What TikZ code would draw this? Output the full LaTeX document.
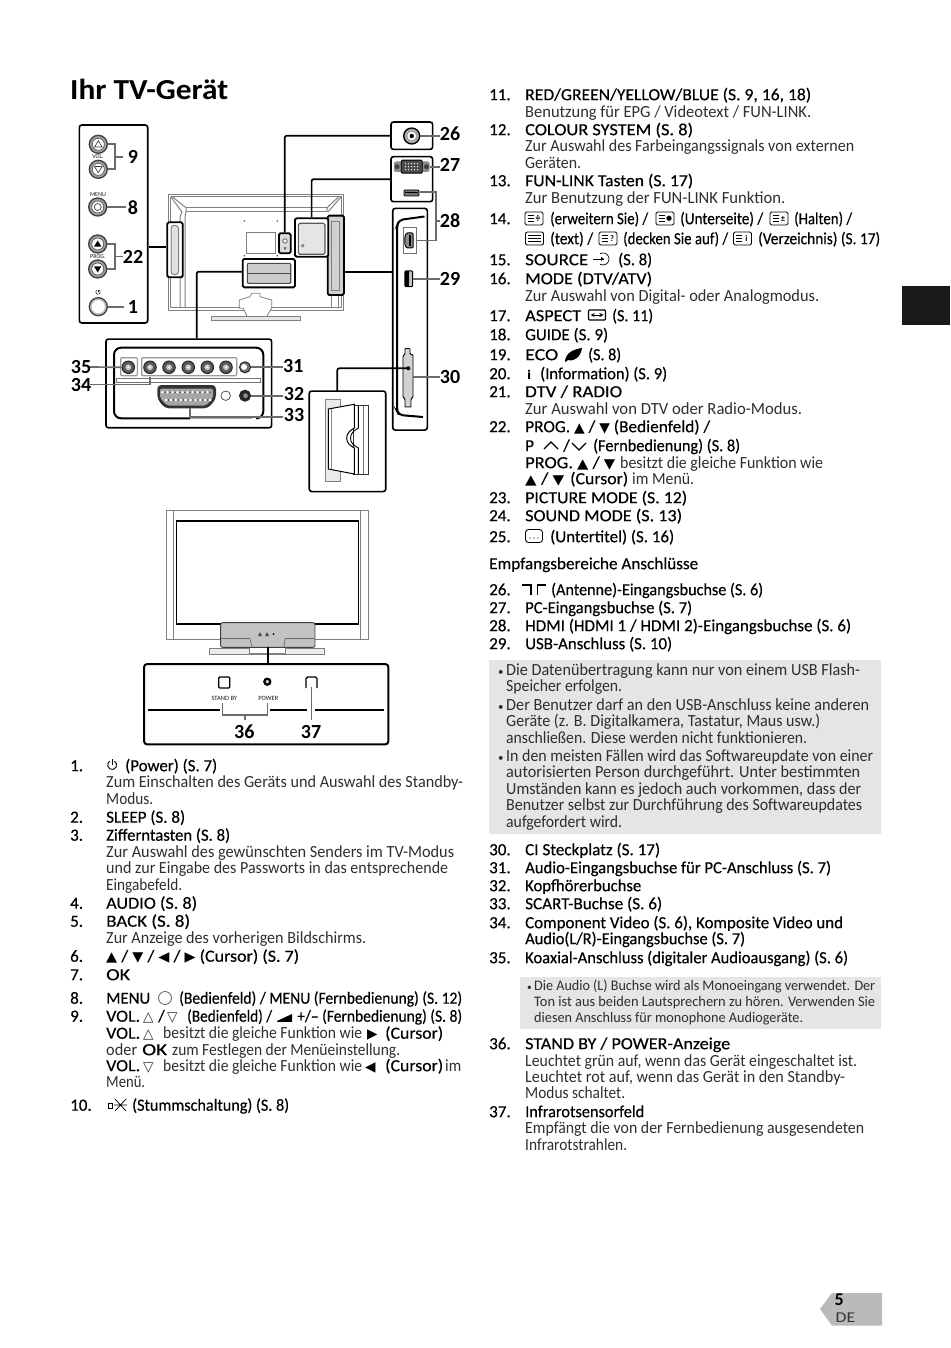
\documentclass[tikz,border=0pt]{standalone}
\usepackage{fontspec}
\usepackage{graphicx}
\setmainfont{Carlito}
\newfontfamily\hdf[FakeBold=0.35]{Carlito}
\newfontfamily\symf[Scale=0.8]{DejaVu Sans}
\newcommand\sy[1]{{\symf #1}}
\newcommand\fsn{\fontsize{17}{20}\selectfont}
\newcommand\fss{\fontsize{14.6}{17}\selectfont}
\newcounter{tln}
\newsavebox\tlbox
\newcommand\fitw[2]{\sbox\tlbox{#2}\if\relax\detokenize{#1}\relax\usebox\tlbox\else\pgfmathsetmacro\tlsc{#1/\the\wd\tlbox}\scalebox{\tlsc}[1]{\usebox\tlbox}\fi}
% \tl[width]{x}{baseline}{text}
\newcommand\tl[4][]{\stepcounter{tln}\node[txt,font=\fsn\hdf] (t\thetln) at (#2,#3+.7) {\fitw{#1}{#4}};}
\newcommand\dl[4][]{\stepcounter{tln}\node[txt,text=black!82] (t\thetln) at (#2,#3+.7) {\fitw{#1}{#4}};}
\newcommand\snl[4][]{\stepcounter{tln}\node[txt,font=\fss,text=black!82] (t\thetln) at (#2,#3) {\fitw{#1}{#4}};}
\newcommand\tvicon[3]{% x y glyph
  \draw[icn,rounded corners=1.5pt] (#1,#2-6.5) rectangle ++(18,13);
  \foreach \k in {-3,0,3}{\draw[line width=.7pt] (#1+2.5,#2+\k) -- ++(6,0);}
  \node[inner sep=0,font=\fontsize{8.5}{9}\bfseries\selectfont] at (#1+13,#2) {#3};}
\tikzset{
  txt/.style={anchor=base west,inner sep=0pt,font=\fsn,text=black},
  lbl/.style={inner sep=0pt,font=\fontsize{20}{20}\selectfont\bfseries,text=black},
  tinytxt/.style={inner sep=0pt,font=\fontsize{6}{6}\selectfont,text=black!90},
  pan/.style={draw=black,line width=1.6pt,rounded corners=2.5pt,inner sep=0pt,fill=white},
  hi/.style={draw=black,line width=1.8pt,rounded corners=1.5pt,inner sep=0pt},
  conn/.style={draw=black,line width=1.7pt,rounded corners=2pt},
  lead/.style={draw=black!58,line width=1.7pt},
  thn/.style={draw=black!50,line width=1pt},
  icn/.style={draw=black,line width=.9pt},
  btn/.style={circle,draw=black!75,line width=1.3pt,fill=black!38,inner sep=0pt,minimum size=18pt},
  jack/.style={circle,draw=black!85,line width=1pt,fill=black!65,inner sep=0pt,minimum size=12.5pt},
}
\begin{document}
\begin{tikzpicture}[x=1pt,y=-1pt]
\useasboundingbox (0,0) rectangle (950,1348);
% page furniture
\fill[black!90] (902,286) rectangle (950,325);
\fill[black!27] (832,1293) -- (882,1293) -- (882,1325.5) -- (832,1325.5) -- (820,1309) -- cycle;
\node[txt,font=\fontsize{18}{18}\selectfont] (pgnum) at (834.5,1305.5) {\textbf{5}};
\node[txt,font=\fontsize{15}{15}\selectfont,text=black!80] (pglang) at (835.5,1322) {\fitw{19.5}{DE}};
\node[txt,font=\fontsize{29}{30}\selectfont\bfseries] (title) at (70,100) {\fitw{158}{Ihr TV-Gerät}};

%%%%% rear TV
\draw[thn] (168.3,194.3) rectangle (343.5,310);
\draw[thn] (170.5,197) -- (341.5,197);
\draw[thn] (170.5,197) -- (170.5,308) (341.5,197) -- (341.5,308);
\draw[thn] (186,207.7) -- (327,207.7) (186,211.7) -- (327,211.7);
\draw[thn] (171,197) -- (182,212) -- (180,217) -- (180,308);
\draw[thn] (172,196.5) -- (186,207.7) -- (186,212) -- (185,216.7) -- (185,308);
\draw[thn] (341,197) -- (328,212);
\draw[thn] (339,196.5) -- (327,207.7) -- (327,212);
\draw[thn] (170.5,307) -- (341.5,307);
\draw[thn] (331,296) -- (331,308) (338,296) -- (338,308);
\draw[thn,line width=.8pt,fill=white] (239.3,308.3) -- (239.3,300) -- (250,296.7) -- (251.7,293.3) -- (260,293.3) -- (260,296.7) -- (271.7,300) -- (271.7,307.7) -- (266.7,316.7) -- (247.3,316.7) -- (243.3,308.3) -- cycle;
\draw[thn,line width=.8pt,fill=black!10] (211.7,316) rectangle (300,320.5);
\draw[thn,line width=.7pt] (246.7,232.7) rectangle (275,253.3);
\foreach \p in {(244.3,221),(277.3,221),(244.3,255.7),(277.3,255.7)} \fill[black!65] \p circle (.9);

\node[hi,fill=white,minimum width=15.4pt,minimum height=55pt] (sl) at (175,249.8) {};
\draw[thn,rounded corners=3pt,fill=black!12] (171,225.5) rectangle (178.5,274.5);
\node[hi,fill=black!18,minimum width=16.3pt,minimum height=79.3pt] (sr) at (335.8,255.3) {};
\draw[thn,line width=.7pt] (331,221) -- (339,221) -- (339,290) -- (331,290);
\draw[thn,line width=.7pt] (331,221) -- (331,290);
\node[hi,fill=white,minimum width=33.3pt,minimum height=38.4pt] (sm) at (311.6,237.5) {};
\draw[black!65,line width=1.1pt,rounded corners=1.5pt,fill=black!10] (298.3,223.3) rectangle (325,254.3);
\draw[black!60,line width=.6pt] (302.7,245.7) circle (1.4);
\node[hi,fill=black!14,minimum width=11.7pt,minimum height=20pt] (sc) at (284.8,243.3) {};
\draw[black!70,line width=.7pt,fill=white] (285,241) circle (2.2);
\fill[black!70] (283.6,247.5) -- (286.4,247.5) -- (285,250) -- cycle;
\node[hi,fill=white,minimum width=52.3pt,minimum height=28.3pt] (sb) at (268.8,273.2) {};
\draw[black!70,line width=1.1pt,rounded corners=1pt,fill=black!20] (247.3,263.3) rectangle (290.7,283.3);
\draw[black!70,line width=1pt] (247.3,273.3) -- (290.7,273.3);

%%%%% left control panel
\node[pan,minimum width=68.4pt,minimum height=198pt] (lp) at (113.5,224) {};
\node[btn] (bvu) at (98.3,144.3) {};
\node[btn] (bvd) at (98.3,169.3) {};
\node[btn] (bm) at (97.7,207) {};
\node[btn] (bpu) at (97.7,244) {};
\node[btn] (bpd) at (97.7,269) {};
\node[btn,fill=black!25] (bpw) at (98.3,306.7) {};
\foreach \n in {bvu,bvd,bm,bpu,bpd}{\fill[white] (\n) circle (5.8);\draw[black!70,line width=.5pt] (\n) circle (6);}
\fill[white] (bpw) circle (6.5);
\draw[black!75,line width=.7pt] (98.3,140.8) -- (102,147) -- (94.6,147) -- cycle;
\draw[black!75,line width=.7pt] (98.3,172.8) -- (102,166.6) -- (94.6,166.6) -- cycle;
\draw[black!75,line width=.7pt] (bm) circle (3.5);
\fill[black] (97.7,240.5) -- (101.4,246.7) -- (94,246.7) -- cycle;
\fill[black] (97.7,272.5) -- (101.4,266.3) -- (94,266.3) -- cycle;
\node[tinytxt] (tvol) at (98,157) {VOL.};
\node[tinytxt] (tmenu) at (98,194.7) {MENU};
\node[tinytxt] (tprog) at (98,257) {PROG.};
\draw[black!80,line width=.6pt] (99.1,290.1) arc[start angle=-60,end angle=240,radius=2.2];
\draw[black!80,line width=.6pt] (98,289.5) -- (98,292);
\coordinate (j9) at (115,156.7);
\draw[lead] (bvu.east) -| (j9) -- ++(8,0);
\draw[lead] (bvd.east) -| (j9);
\draw[lead] (bm.east) -- ++(19,0);
\coordinate (j22) at (115,256.5);
\draw[lead] (bpu.east) -| (j22) -- ++(8,0);
\draw[lead] (bpd.east) -| (j22);
\draw[lead] (bpw.east) -- ++(16,0);
\node[lbl] (l9) at (133,157) {9};
\node[lbl] (l8) at (133,207.5) {8};
\node[lbl] (l22) at (133,256.5) {22};
\node[lbl] (l1) at (133,306.7) {1};
\coordinate (cl) at (170,247.3);
\draw[conn] (lp.east |- cl) -- (sl.west |- cl);

%%%%% top-right panels
\node[pan,minimum width=41.7pt,minimum height=27.3pt] (p26) at (411.8,135.7) {};
\node[pan,minimum width=41.7pt,minimum height=45pt] (p27) at (411.8,179.2) {};
\node[circle,draw=black,line width=1.3pt,fill=black!35,minimum size=16pt,inner sep=0] (ant) at (411.7,136) {};
\fill[white] (ant) circle (4.3);
\fill[black] (ant) circle (2.2);
\draw[conn] (p26.west) -| (sc.north);
\draw[conn] (p27.west) -| (sm.north);
\draw[lead] (ant.east) -- (440,136);
\node[lbl] (l26) at (450,133.3) {26};
% VGA
\fill[black!45,rounded corners=2pt] (394,161.5) rectangle (429.5,172);
\node[draw=black,fill=black!70,line width=.9pt,rounded corners=1pt,minimum width=21pt,minimum height=13pt,inner sep=0] (vga) at (411.7,166.7) {};
\foreach \i in {0,...,4}{\foreach \jj in {-3,0,3}{\fill[white] (405.5+\i*3,166.7+\jj) circle (.7);}}
\foreach \cc in {397,426.5}{\fill[black!75] (\cc,166.7) circle (2.5);}
\draw[lead] (430,166.7) -- (440,166.7);
\node[lbl] (l27) at (450,165) {27};
\node[draw=black,fill=black!55,line width=.9pt,rounded corners=1pt,minimum width=15pt,minimum height=6pt,inner sep=0] (hd1) at (411.5,193) {};
\fill[black] (405,191.8) rectangle (418,193.2);
% side panel
\node[pan,minimum width=34.6pt,minimum height=221.7pt] (sp) at (410,319.2) {};
\draw[black,line width=2pt,rounded corners=4pt] (424.5,216.5) -- (399,220) -- (397,226) -- (397,411) -- (399,415) -- (423,417);
\node[draw=black!55,line width=.9pt,inner sep=0,minimum width=13.4pt,minimum height=25.6pt,fill=white] (ph) at (410,240.5) {};
\draw[black,fill=black!45,line width=1pt,rounded corners=1pt] (406.5,233) -- (413,233) -- (413,248) -- (406.5,248) -- (404.8,244.5) -- (404.8,236.5) -- cycle;
\fill[black] (408.5,235.5) rectangle (410.5,246);
\node[draw=black,fill=black!25,line width=1pt,rounded corners=1pt,inner sep=0,minimum width=7.7pt,minimum height=15.7pt] (pu) at (408.8,278.8) {};
\fill[black] (405,271) rectangle (408.5,286.5);
\draw[black,fill=black!18,line width=.9pt,rounded corners=.8pt] (405,354) -- (405,348.5) -- (410,348.5) -- (410,354) -- (413,355) -- (413,397) -- (411,399) -- (411,407) -- (405,407) -- (405,399) -- (403,397) -- (403,356) -- cycle;
\coordinate (ci) at (408.3,368.3);
\fill[black] (ci) circle (2);
\coordinate (jl) at (392.7,272.3);
\draw[conn] (sr.east |- jl) -- (jl);
\draw[lead] (ph.east) -- (436,240.5) -- (436,191.7) -- (420,191.7);
\draw[lead] (436,221) -- (440,221);
\node[lbl] (l28) at (450,221) {28};
\draw[lead] (412.7,279) -- (440,279);
\node[lbl] (l29) at (450,279) {29};
\draw[lead] (413,376.7) -- (440,376.7);
\node[lbl] (l30) at (450,376.7) {30};

%%%%% bottom connector panel
\node[pan,minimum width=165.7pt,minimum height=88.7pt] (bp) at (188.8,383.4) {};
\coordinate (jb) at (196.7,271.7);
\draw[conn] (sb.west |- jb) -- (jb) -- (jb |- bp.north);
\draw[black,line width=2pt,rounded corners=7pt] (190,418.3) -- (114,418.3) -- (114,347.7) -- (263.3,347.7) -- (263.3,418.3) -- (258,418.3);
\draw[black!35,line width=.8pt] (190,418.3) -- (252,418.3);
\draw[black!55,line width=.8pt] (116.7,378.3) rectangle (260,382.3);
\node[draw=black!40,line width=1.1pt,rounded corners=1pt,inner sep=0,minimum width=16.6pt,minimum height=18pt] (g35) at (129,366.7) {};
\node[draw=black!40,line width=1.1pt,rounded corners=1pt,inner sep=0,minimum width=95pt,minimum height=18pt] (g34) at (189.2,366.7) {};
\foreach \x/\n in {128.3/f,150/a,169/b,188.3/c,207.3/d,226/e}{\node[jack] (j34\n) at (\x,367.3) {};\fill[black!25] (j34\n) circle (3);\fill[white] (j34\n) circle (1.2);}
\node[jack,fill=black!55,minimum size=11pt] (j31) at (245,367.3) {};
\fill[white] (244,367) circle (3);
\node[jack,fill=black!85,minimum size=11pt] (j32) at (245,395.7) {};
\fill[black!45] (245.5,395.7) circle (2.4);
\node[circle,draw=black!75,line width=.7pt,inner sep=0,minimum size=9.5pt] (jw) at (225.7,395.7) {};
\fill[black!80,rounded corners=4pt] (157.3,385) -- (216,385) -- (216,399) -- (208,408.3) -- (165,408.3) -- (157.3,399) -- cycle;
\fill[black!35,rounded corners=2pt] (160,388.5) -- (213,388.5) -- (213,398) -- (206,405.5) -- (167,405.5) -- (160,398) -- cycle;
\foreach \i in {0,...,9}{\fill[white] (162.5+\i*5,392.3) circle (1.4);\fill[black] (165+\i*5,392.3) circle (.6);\fill[white] (166+\i*4.9,400) circle (1.4);\fill[black] (168.5+\i*4.9,400) circle (.6);}
\draw[lead] (88,367) -- (j34f.west);
\node[lbl] (l35) at (81,366.7) {35};
\draw[lead] (90,384.5) -- (150,384.5) -- (150,376.5);
\node[lbl] (l34) at (81,385) {34};
\draw[lead] (j31.east) -- (283,367.3);
\node[lbl] (l31) at (293.3,365.7) {31};
\draw[lead] (j32.east) -- (283,395.7);
\node[lbl] (l32) at (294,394.3) {32};
\draw[lead] (190,408.3) -- (190,417.3) -- (283,417.3);
\node[lbl] (l33) at (294,415.3) {33};

%%%%% CI inset
\node[pan,minimum width=76.5pt,minimum height=100.5pt] (ci2) at (347.5,441.3) {};
\coordinate (cib) at (337.3,391);
\draw[conn] (ci) -| (cib);
\draw[black!50,line width=.9pt,fill=black!8] (325.7,399) rectangle (340,481.7);
\draw[black!80,line width=.9pt,fill=white] (353,405.7) -- (368,405.7) -- (368,474) -- (353,474) -- cycle;
\draw[black!55,line width=.7pt] (363.3,406) -- (363.3,474);
\draw[black,line width=1pt,fill=white] (328.3,409) -- (354.3,404.3) -- (354.3,428) to[out=-150,in=90] (346.7,438.3) to[out=-90,in=150] (354.3,448) -- (354.3,474) -- (328.3,469) -- cycle;
\draw[black,line width=.9pt] (358.3,405.5) -- (358.3,428) to[out=-150,in=90] (350.5,438.3) to[out=-90,in=150] (358.3,448) -- (358.3,474);
\draw[black!45,line width=.7pt] (331,408.5) -- (331,469);

%%%%% front TV
\draw[thn] (166,510) rectangle (368.3,639.3);
\draw[thn] (173.3,510) -- (173.3,639.3) (360.7,510) -- (360.7,639.3);
\node[draw=black,line width=1.2pt,inner sep=0,fill=white,minimum width=181.6pt,minimum height=103pt] (scr) at (267.5,572.5) {};
\draw[thn,fill=black!8] (209,648) rectangle (324,654);
\draw[thn,fill=white] (249,640) -- (285,640) -- (285,653) -- (249,653) -- cycle;
\node[draw=black!75,line width=.9pt,rounded corners=2pt,fill=black!24,inner sep=0,minimum width=94.3pt,minimum height=24.7pt] (fs) at (267.8,635) {};
\fill[black!70] (258,636) -- (260,632) -- (262,636) -- cycle (265,636) -- (267,632) -- (269,636) -- cycle;
\fill[black] (273.5,634) circle (1);
\draw[black!60,line width=.7pt] (220.7,638) -- (250,638) (285,638) -- (315,638);
\draw[black!60,line width=.7pt] (250,639) -- (252,647) (285,639) -- (284,647);
\node[pan,line width=2pt,rounded corners=3pt,minimum width=244.3pt,minimum height=80.3pt] (fp) at (266.2,704.2) {};
\coordinate (fc) at (267.7,647);
\draw[conn,line width=2.2pt] (fc) -- (fc |- fp.north);
\draw[black,line width=1.3pt] (147.5,710) -- (220,710) (270,710) -- (307,710) (315,710) -- (384,710);
\node[draw=black,line width=1.3pt,rounded corners=1pt,inner sep=0,minimum size=11pt,fill=white] (fsb) at (224.3,682.5) {};
\node[circle,draw=black,line width=2.2pt,inner sep=0,minimum size=6pt,fill=black!20] (fpw) at (267.3,681.7) {};
\coordinate (fir) at (311.7,687);
\draw[black,line width=1.4pt,rounded corners=1.5pt] (306,688) -- (306,677) -- (317,677) -- (317,688);
\node[tinytxt,font=\fontsize{6.5}{7}\selectfont] (tsb) at (224.3,698.3) {STAND BY};
\node[tinytxt,font=\fontsize{6.5}{7}\selectfont] (tpw) at (268.3,698.3) {POWER};
\coordinate (b1) at (222.7,703);
\coordinate (b2) at (267.7,703);
\coordinate (b3) at (245,715);
\draw[lead,line width=1.4pt] (b1) -- (b1 |- b3) -- (b2 |- b3) -- (b2) (b3) -- ++(0,5);
\draw[lead,line width=1.4pt] (fir) -- (311.7,720);
\node[lbl] (l36) at (244.3,731.7) {36};
\node[lbl] (l37) at (311,731.7) {37};

%%%%% left column
\tl{70}{770.5}{1.}
\draw[icn] (114.4,761.1) arc[start angle=-60,end angle=240,radius=4.5];
\draw[icn] (112.2,759) -- (112.2,765);
\tl[92]{125}{770.5}{(Power) (S. 7)}
\dl[357]{106}{787}{Zum Einschalten des Geräts und Auswahl des Standby-}
\dl[47]{106}{803.5}{Modus.}
\tl{70}{822}{2.}\tl[79]{106}{822}{SLEEP (S. 8)}
\tl{70}{840}{3.}\tl[124]{106}{840}{Zifferntasten (S. 8)}
\dl[348]{106}{856.5}{Zur Auswahl des gewünschten Senders im TV-Modus}
\dl[342]{106}{873}{und zur Eingabe des Passworts in das entsprechende}
\dl[76]{106}{889.5}{Eingabefeld.}
\tl{70}{908}{4.}\tl[91]{106}{908}{AUDIO (S. 8)}
\tl{70}{926}{5.}\tl[84]{106}{926}{BACK (S. 8)}
\dl[260]{106}{943}{Zur Anzeige des vorherigen Bildschirms.}
\tl{70}{961}{6.}\tl[193]{106}{961}{\sy{▲} / \sy{▼} / \sy{◀} / \sy{▶} (Cursor) (S. 7)}
\tl{70}{979.5}{7.}\tl[24]{106}{979.5}{OK}
\tl{70}{1003}{8.}\tl[44]{106}{1003}{MENU}
\node[circle,draw=black!70,line width=.7pt,minimum size=13pt,inner sep=0] (menuic) at (165,998) {};
\tl[283]{179}{1003}{(Bedienfeld) / MENU (Fernbedienung) (S. 12)}
\tl{70}{1021}{9.}\tl[34]{106}{1021}{VOL.}
\dl{143}{1021}{\sy{△}}\tl{158}{1021}{/}\dl{167}{1021}{\sy{▽}}
\tl[85]{187}{1021}{(Bedienfeld) /}
\fill[black] (277,1021) -- (292,1014) -- (292,1021) -- cycle;
\draw[black,line width=.5pt] (277,1021) -- (292,1021);
\tl[165]{297}{1021}{+/– (Fernbedienung) (S. 8)}
\tl[34]{106}{1038}{VOL.}\dl{143}{1038}{\sy{△}}
\dl[199]{163}{1038}{besitzt die gleiche Funktion wie}\tl{367}{1038}{\sy{▶}}\tl[58]{385}{1038}{(Cursor)}
\dl[31]{106}{1054.5}{oder}\tl[25]{142}{1054.5}{OK}\dl[228]{172}{1054.5}{zum Festlegen der Menüeinstellung.}
\tl[34]{106}{1070.5}{VOL.}\dl{143}{1070.5}{\sy{▽}}
\dl[199]{163}{1070.5}{besitzt die gleiche Funktion wie}\tl{365}{1070.5}{\sy{◀}}\tl[58]{385}{1070.5}{(Cursor)}\dl[16]{445}{1070.5}{im}
\dl[39]{106}{1087}{Menü.}
\tl{70}{1110}{10.}
\draw[icn] (108,1103) rectangle (112,1108);
\draw[icn,line width=.7pt] (115,1099) -- (126,1111) (126,1099) -- (115,1111) (114,1105) -- (127,1105);
\tl[157]{132}{1110}{(Stummschaltung) (S. 8)}

%%%%% right column
\tl{489}{99.5}{11.}\tl[286]{525}{99.5}{RED/GREEN/YELLOW/BLUE (S. 9, 16, 18)}
\dl[286]{525}{116.5}{Benutzung für EPG / Videotext / FUN-LINK.}
\tl{489}{134.5}{12.}\tl[168]{525}{134.5}{COLOUR SYSTEM (S. 8)}
\dl[329]{525}{151}{Zur Auswahl des Farbeingangssignals von externen}
\dl[56]{525}{167.5}{Geräten.}
\tl{489}{185.5}{13.}\tl[168]{525}{185.5}{FUN-LINK Tasten (S. 17)}
\dl[260]{525}{202.5}{Zur Benutzung der FUN-LINK Funktion.}
\tl{489}{223.5}{14.}
\tvicon{525}{218.5}{\symf ≑}\tl[98]{550}{223.5}{(erweitern Sie) /}
\tvicon{656}{218.5}{\symf ●}\tl[83]{680}{223.5}{(Unterseite) /}
\tvicon{770}{218.5}{±}\tl[58]{794}{223.5}{(Halten) /}
\draw[icn,rounded corners=2pt] (525.5,232) rectangle ++(18,13);
\draw[line width=.7pt] (528,235.5) -- ++(13,0) (528,238.5) -- ++(13,0) (528,241.5) -- ++(13,0);
\tl[43]{550}{243.5}{(text) /}
\tvicon{599}{238.5}{?}\tl[105]{623}{243.5}{(decken Sie auf) /}
\tvicon{733.5}{238.5}{i}\tl[122]{758}{243.5}{(Verzeichnis) (S. 17)}
\tl{489}{264.5}{15.}\tl[63]{525}{264.5}{SOURCE}
\draw[icn,line width=.7pt] (593,259) -- (604,259);
\draw[icn,line width=.7pt] (600,253.8) arc[start angle=-120,end angle=120,radius=6];
\fill[black] (604,259) -- (601,257) -- (601,261) -- cycle;
\tl[34]{618}{264.5}{(S. 8)}
\tl{489}{283.5}{16.}\tl[127]{525}{283.5}{MODE (DTV/ATV)}
\dl[294]{525}{300.5}{Zur Auswahl von Digital- oder Analogmodus.}
\tl{489}{320.5}{17.}\tl[56]{525}{320.5}{ASPECT}
\draw[icn,line width=1.1pt,rounded corners=1pt] (588.5,310) rectangle (605.5,320);
\draw[line width=.9pt,<->,>=stealth] (590.5,315) -- (603.5,315);
\tl[41]{612}{320.5}{(S. 11)}
\tl{489}{339.5}{18.}\tl[83]{525}{339.5}{GUIDE (S. 9)}
\tl{489}{359.5}{19.}\tl[33]{525}{359.5}{ECO}
\fill[black] (565,361) .. controls (566,352) and (575,349) .. (582,348) .. controls (581,356) and (575,362) .. (568,360) -- (565.5,362) -- cycle;
\tl[33]{588}{359.5}{(S. 8)}
\tl{489}{378.5}{20.}
\node[txt,font=\fontsize{15}{15}\selectfont\bfseries\symf] (iinfo) at (527,379.2) {i};
\tl[127]{540}{378.5}{(Information) (S. 9)}
\tl{489}{396.5}{21.}\tl[97]{525}{396.5}{DTV / RADIO}
\dl[277]{525}{413.5}{Zur Auswahl von DTV oder Radio-Modus.}
\tl{489}{431.5}{22.}\tl[185]{525}{431.5}{PROG. \sy{▲} / \sy{▼} (Bedienfeld) /}
\tl{525}{450.5}{P}
\draw[black,line width=1.2pt] (544,449) -- (551,442) -- (558,449) (572,443) -- (579,450) -- (586,443);
\tl{563}{450.5}{/}
\tl[147]{593}{450.5}{(Fernbedienung) (S. 8)}
\tl[90]{525}{467.5}{PROG. \sy{▲} / \sy{▼}}\dl[203]{620}{467.5}{besitzt die gleiche Funktion wie}
\tl[39]{525}{483.5}{\sy{▲} / \sy{▼}}\tl[58]{570}{483.5}{(Cursor)}\dl[62]{632}{483.5}{im Menü.}
\tl{489}{502.5}{23.}\tl[162]{525}{502.5}{PICTURE MODE (S. 12)}
\tl{489}{520.5}{24.}\tl[157]{525}{520.5}{SOUND MODE (S. 13)}
\tl{489}{541.5}{25.}
\draw[icn,rounded corners=3pt] (525.5,529.5) rectangle ++(17,13);
\fill[black] (530,538) circle (.7) (534,538) circle (.7) (538,538) circle (.7);
\tl[124]{550}{541.5}{(Untertitel) (S. 16)}
\tl[209]{489}{568.5}{Empfangsbereiche Anschlüsse}
\tl{489}{594.5}{26.}
\draw[icn,line width=1.5pt] (522,585) -- (531,585) -- (531,594.5) (537.5,594.5) -- (537.5,585) -- (546,585);
\tl[212]{551}{594.5}{(Antenne)-Eingangsbuchse (S. 6)}
\tl{489}{612.5}{27.}\tl[167]{525}{612.5}{PC-Eingangsbuchse (S. 7)}
\tl{489}{630.5}{28.}\tl[326]{525}{630.5}{HDMI (HDMI 1 / HDMI 2)-Eingangsbuchse (S. 6)}
\tl{489}{648.5}{29.}\tl[147]{525}{648.5}{USB-Anschluss (S. 10)}
\fill[black!10] (489,660) rectangle (881,834);
\dl{498}{674.5}{\scalebox{.65}{•}}\dl[354]{506}{674.5}{Die Datenübertragung kann nur von einem USB Flash-}
\dl[116]{506}{691}{Speicher erfolgen.}
\dl{498}{709.5}{\scalebox{.65}{•}}\dl[363]{506}{709.5}{Der Benutzer darf an den USB-Anschluss keine anderen}
\dl[314]{506}{726}{Geräte (z. B. Digitalkamera, Tastatur, Maus usw.)}
\dl[301]{506}{742.5}{anschließen. Diese werden nicht funktionieren.}
\dl{498}{760.5}{\scalebox{.65}{•}}\dl[367]{506}{760.5}{In den meisten Fällen wird das Softwareupdate von einer}
\dl[354]{506}{777}{autorisierten Person durchgeführt. Unter bestimmten}
\dl[355]{506}{793.5}{Umständen kann es jedoch auch vorkommen, dass der}
\dl[356]{506}{810}{Benutzer selbst zur Durchführung des Softwareupdates}
\dl[116]{506}{826.5}{aufgefordert wird.}
\tl{489}{854.5}{30.}\tl[135]{525}{854.5}{CI Steckplatz (S. 17)}
\tl{489}{872.5}{31.}\tl[306]{525}{872.5}{Audio-Eingangsbuchse für PC-Anschluss (S. 7)}
\tl{489}{890.5}{32.}\tl[116]{525}{890.5}{Kopfhörerbuchse}
\tl{489}{908.5}{33.}\tl[137]{525}{908.5}{SCART-Buchse (S. 6)}
\tl{489}{927.5}{34.}\tl[318]{525}{927.5}{Component Video (S. 6), Komposite Video und}
\tl[220]{525}{943.5}{Audio(L/R)-Eingangsbuchse (S. 7)}
\tl{489}{962.5}{35.}\tl[323]{525}{962.5}{Koaxial-Anschluss (digitaler Audioausgang) (S. 6)}
\fill[black!10] (520,977) rectangle (881,1029);
\snl{527}{990.5}{\scalebox{.65}{•}}\snl[341]{534}{990.5}{Die Audio (L) Buchse wird als Monoeingang verwendet. Der}
\snl[341]{534}{1006.5}{Ton ist aus beiden Lautsprechern zu hören. Verwenden Sie}
\snl[269]{534}{1022}{diesen Anschluss für monophone Audiogeräte.}
\tl{489}{1048.5}{36.}\tl[205]{525}{1048.5}{STAND BY / POWER-Anzeige}
\dl[332]{525}{1065.5}{Leuchtet grün auf, wenn das Gerät eingeschaltet ist.}
\dl[320]{525}{1082}{Leuchtet rot auf, wenn das Gerät in den Standby-}
\dl[100]{525}{1098}{Modus schaltet.}
\tl{489}{1116.5}{37.}\tl[119]{525}{1116.5}{Infrarotsensorfeld}
\dl[339]{525}{1133}{Empfängt die von der Fernbedienung ausgesendeten}
\dl[102]{525}{1150}{Infrarotstrahlen.}
\end{tikzpicture}
\end{document}
